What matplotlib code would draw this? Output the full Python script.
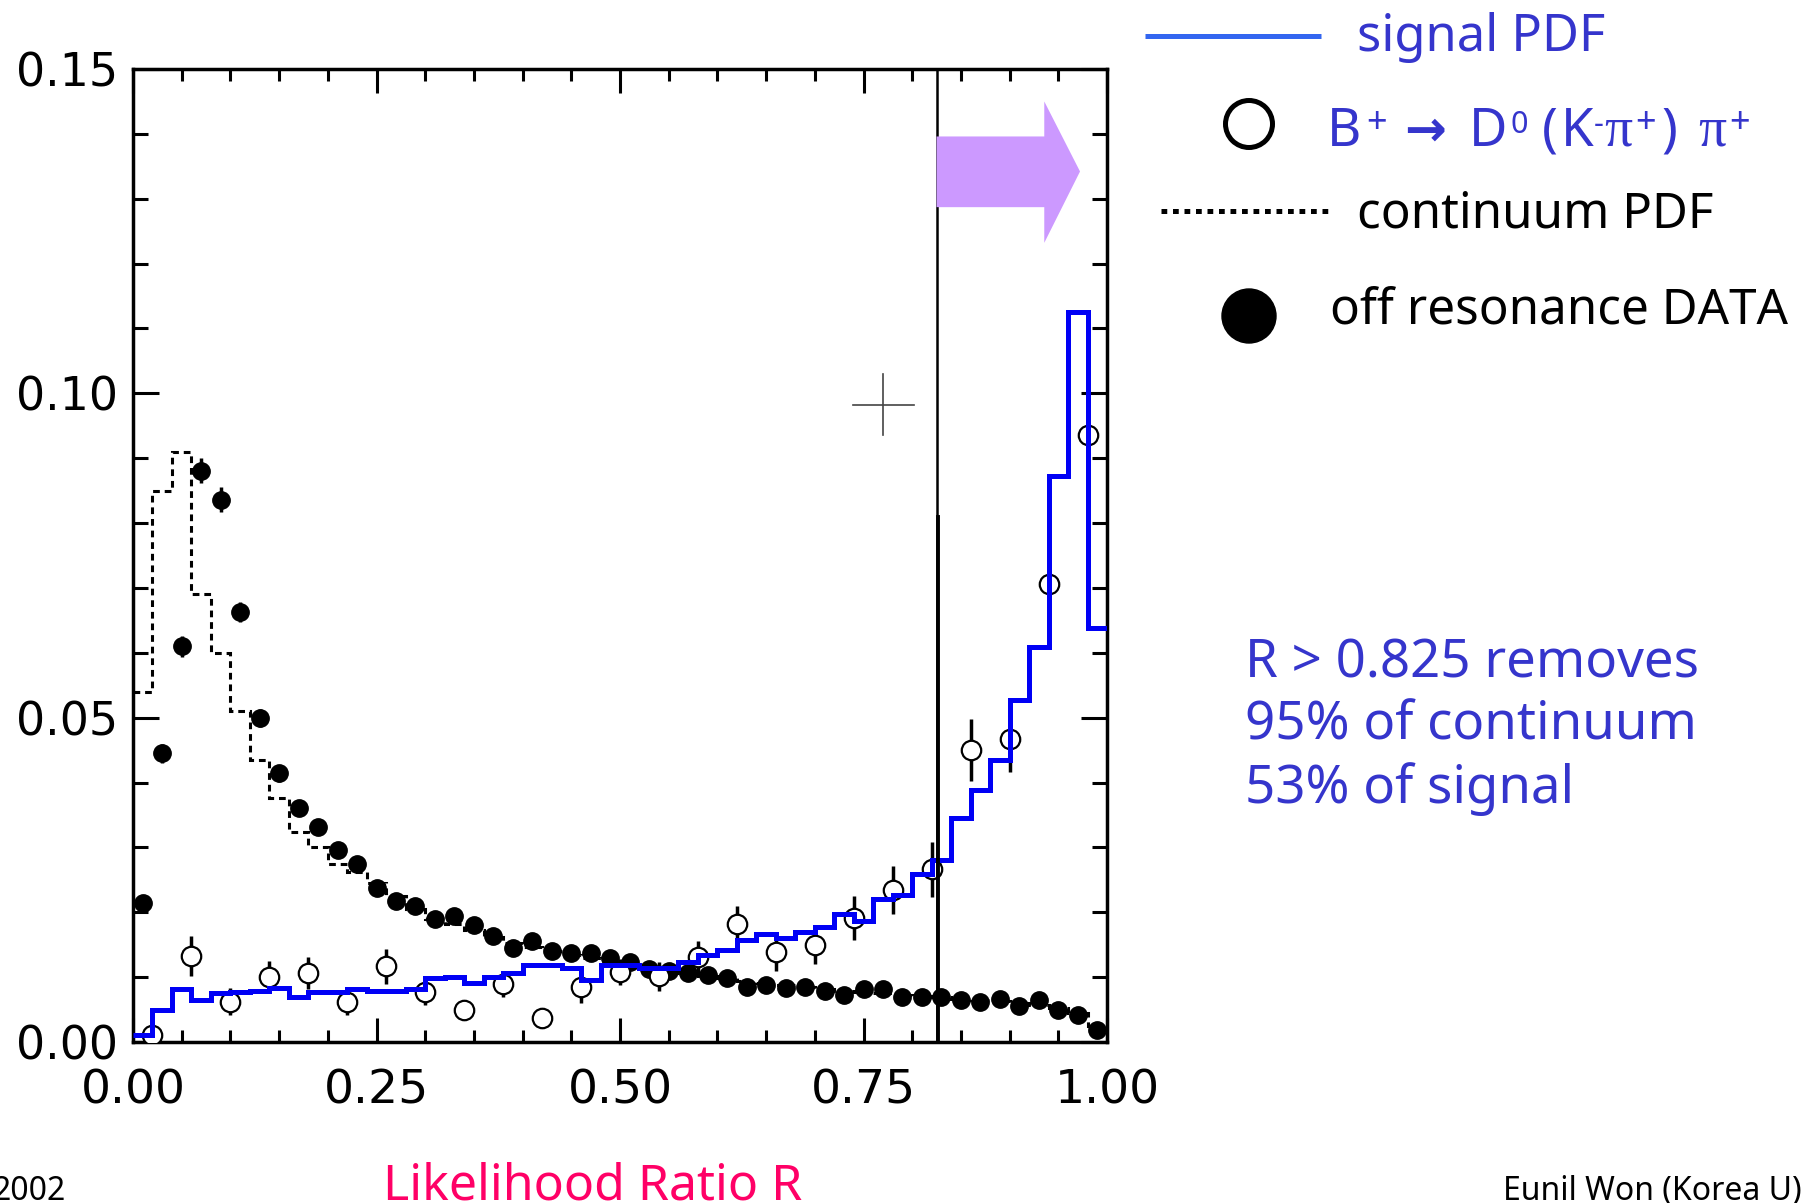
import numpy as np
import matplotlib
matplotlib.use("Agg")
import matplotlib.pyplot as plt
from matplotlib.patches import Polygon, Circle
from matplotlib.ticker import MultipleLocator, FixedLocator

# ---------------- data ----------------
# 50 bins of width 0.02 on [0, 1]
signal_pdf = [0.0011, 0.0050, 0.0081, 0.0065, 0.0076, 0.0077, 0.0079, 0.0083, 0.0070, 0.0077,
              0.0077, 0.0081, 0.0078, 0.0078, 0.0081, 0.0098, 0.0100, 0.0091, 0.0100, 0.0106,
              0.0119, 0.0119, 0.0114, 0.0096, 0.0119, 0.0119, 0.0114, 0.0114, 0.0124, 0.0134,
              0.0142, 0.0157, 0.0166, 0.0160, 0.0169, 0.0178, 0.0198, 0.0186, 0.0220, 0.0227,
              0.0259, 0.0281, 0.0346, 0.0389, 0.0434, 0.0527, 0.0609, 0.0873, 0.1126, 0.0639]

continuum_pdf = [0.0540, 0.0850, 0.0910, 0.0690, 0.0600, 0.0510, 0.0435, 0.0376, 0.0324, 0.0301,
                 0.0274, 0.0262, 0.0245, 0.0225, 0.0205, 0.0190, 0.0182, 0.0172, 0.0162, 0.0152,
                 0.0146, 0.0140, 0.0134, 0.0129, 0.0124, 0.0119, 0.0114, 0.0110, 0.0106, 0.0102,
                 0.0098, 0.0094, 0.0091, 0.0088, 0.0085, 0.0082, 0.0079, 0.0077, 0.0075, 0.0073,
                 0.0071, 0.0069, 0.0067, 0.0065, 0.0063, 0.0060, 0.0057, 0.0052, 0.0044, 0.0025]

offres_data = [0.0214, 0.0445, 0.0610, 0.0881, 0.0836, 0.0663, 0.0499, 0.0414, 0.0360, 0.0331,
               0.0296, 0.0274, 0.0237, 0.0218, 0.0210, 0.0190, 0.0194, 0.0180, 0.0163, 0.0145,
               0.0155, 0.0141, 0.0137, 0.0137, 0.0130, 0.0123, 0.0112, 0.0109, 0.0107, 0.0103,
               0.0098, 0.0085, 0.0088, 0.0084, 0.0085, 0.0078, 0.0072, 0.0081, 0.0081, 0.0070,
               0.0070, 0.0070, 0.0064, 0.0062, 0.0066, 0.0056, 0.0065, 0.0050, 0.0042, 0.0019]

offres_err = [0.0012, 0.0015, 0.0016, 0.0019, 0.0019, 0.0016, 0.0014, 0.0013, 0.0012, 0.0012,
              0.0011, 0.0011, 0.0010, 0.0010, 0.0010, 0.0010, 0.0010, 0.0010, 0.0009, 0.0009,
              0.0009, 0.0009, 0.0009, 0.0009, 0.0009, 0.0009, 0.0009, 0.0009, 0.0009, 0.0009,
              0.0008, 0.0008, 0.0008, 0.0008, 0.0008, 0.0008, 0.0008, 0.0008, 0.0008, 0.0008,
              0.0008, 0.0008, 0.0008, 0.0008, 0.0008, 0.0008, 0.0008, 0.0007, 0.0007, 0.0006]

# B+ -> D0 pi+ (25 bins of width 0.04)
bdpi_x = [0.02, 0.06, 0.10, 0.14, 0.18, 0.22, 0.26, 0.30, 0.34, 0.38, 0.42, 0.46, 0.50,
          0.54, 0.58, 0.62, 0.66, 0.70, 0.74, 0.78, 0.82, 0.86, 0.90, 0.94, 0.98]
bdpi_y = [0.0011, 0.0133, 0.0062, 0.0100, 0.0106, 0.0062, 0.0117, 0.0077, 0.0049, 0.0090,
          0.0037, 0.0085, 0.0108, 0.0101, 0.0131, 0.0182, 0.0139, 0.0150, 0.0191, 0.0234,
          0.0266, 0.0450, 0.0467, 0.0706, 0.0936]
bdpi_err = [0.0010, 0.0031, 0.0021, 0.0025, 0.0025, 0.0020, 0.0027, 0.0020, 0.0010, 0.0020,
            0.0010, 0.0025, 0.0020, 0.0022, 0.0025, 0.0027, 0.0030, 0.0030, 0.0034, 0.0037,
            0.0042, 0.0048, 0.0050, 0.0015, 0.0010]

cut_value = 0.825
cut_thick_top = 0.081

x_ticks = [0.0, 0.25, 0.50, 0.75, 1.00]
x_tick_labels = ["0.00", "0.25", "0.50", "0.75", "1.00"]
y_ticks = [0.00, 0.05, 0.10, 0.15]
y_tick_labels = ["0.00", "0.05", "0.10", "0.15"]

# ---------------- figure ----------------
W, H = 1805, 1203
fig = plt.figure(figsize=(W / 100, H / 100), dpi=100)
fig.patch.set_facecolor("white")

ax = fig.add_axes([133 / W, 1 - 1042 / H, (1107 - 133) / W, (1042 - 69) / H])
ax.set_xlim(0, 1)
ax.set_ylim(0, 0.15)

edges = np.linspace(0, 1, len(signal_pdf) + 1)
centers = 0.5 * (edges[:-1] + edges[1:])

ax.stairs(continuum_pdf, edges, baseline=None, color="black", lw=2.2,
          linestyle=(0, (2.2, 1.6)), zorder=2)
ax.errorbar(centers, offres_data, yerr=offres_err, fmt="o", color="black", ms=12.5,
            elinewidth=2.5, capsize=0, zorder=3)
ax.errorbar(bdpi_x, bdpi_y, yerr=bdpi_err, fmt="o", mfc="white", mec="black", ms=14,
            mew=1.6, ecolor="black", elinewidth=2.5, capsize=0, zorder=4)
ax.stairs(signal_pdf, edges, baseline=None, color="#0000F5", lw=3.6, zorder=5)

# cut line
ax.axvline(cut_value, color="black", lw=1.8, zorder=6)
ax.plot([cut_value + 0.0015] * 2, [0, cut_thick_top], color="black", lw=2.8, zorder=6)

# purple arrow (annotation)
arrow = Polygon([[cut_value, 0.1287], [0.9356, 0.1287], [0.9356, 0.1232], [0.9723, 0.1342],
                 [0.9356, 0.1450], [0.9356, 0.1396], [cut_value, 0.1396]],
                closed=True, facecolor="#CC99FF", edgecolor="none", zorder=7)
ax.add_patch(arrow)

# crosshair cursor
ax.plot([0.739, 0.802], [0.0982, 0.0982], color="#444444", lw=1.2, zorder=7)
ax.plot([0.7703, 0.7703], [0.0936, 0.1030], color="#444444", lw=1.2, zorder=7)

# ticks
ax.xaxis.set_major_locator(FixedLocator(x_ticks))
ax.set_xticklabels(x_tick_labels)
ax.yaxis.set_major_locator(FixedLocator(y_ticks))
ax.set_yticklabels(y_tick_labels)
ax.xaxis.set_minor_locator(MultipleLocator(0.05))
ax.yaxis.set_minor_locator(MultipleLocator(0.01))
ax.tick_params(axis="both", which="both", direction="in", top=True, right=True,
               width=2.2, color="black")
ax.tick_params(axis="y", which="major", length=19, labelsize=33, pad=11)
ax.tick_params(axis="y", which="minor", length=11)
ax.tick_params(axis="x", which="major", length=17, labelsize=34, pad=19)
ax.tick_params(axis="x", which="minor", length=8.5)
for lab in ax.get_xticklabels() + ax.get_yticklabels():
    lab.set_family("DejaVu Sans")
for s in ax.spines.values():
    s.set_linewidth(2.5)

# ---------------- overlay for text (pixel coordinates) ----------------
ov = fig.add_axes([0, 0, 1, 1], zorder=10)
ov.set_xlim(0, W)
ov.set_ylim(H, 0)
ov.axis("off")
ov.patch.set_alpha(0)

blue_txt = "#3535CC"
fam = ["Noto Sans", "DejaVu Sans"]

# legend
ov.plot([1145, 1321], [36, 36], color="#3366F0", lw=3.6, solid_capstyle="butt")
ov.text(1357, 51, "signal PDF", color=blue_txt, fontsize=36.5, family=fam, va="baseline")

ov.add_patch(Circle((1249, 124), 23.5, fill=False, ec="black", lw=3.6))
pieces = [
    (1327, 146, "B", fam, 38),
    (1366, 133, "+", fam, 26),
    (1404, 146, "\u2192", ["DejaVu Sans"], 36),
    (1469, 146, "D", fam, 38),
    (1510, 133, "0", fam, 22),
    (1542, 146, "(", fam, 38),
    (1561, 146, "K", fam, 38),
    (1594, 133, "-", fam, 22),
    (1604, 146, "\u03c0", ["Liberation Serif", "DejaVu Serif"], 40),
    (1635, 133, "+", fam, 26),
    (1661, 146, ")", fam, 38),
    (1698, 146, "\u03c0", ["Liberation Serif", "DejaVu Serif"], 40),
    (1729, 133, "+", fam, 26),
]
for px, py, t, f, s in pieces:
    w = "bold" if t == "\u2192" else "normal"
    ov.text(px, py, t, color=blue_txt, fontsize=s, family=f, va="baseline", ha="left",
            fontweight=w)

ov.plot([1161, 1333], [211, 211], color="black", lw=3.6, linestyle=(0, (1.15, 1.15)))
ov.text(1357, 227, "continuum PDF", color="black", fontsize=35.5, family=fam, va="baseline")

ov.add_patch(Circle((1249, 316), 27, color="black"))
ov.text(1330, 323, "off resonance DATA", color="black", fontsize=35.5, family=fam,
        va="baseline")

# cut description
cut_lines = ["R > 0.825 removes", "95% of continuum", "53% of signal"]
for i, line in enumerate(cut_lines):
    ov.text(1245, 677 + 63 * i, line, color=blue_txt, fontsize=38, family=fam, va="baseline")

# axis title and footer
ov.text(383, 1199, "Likelihood Ratio R", color="#FF0066", fontsize=36, family=fam,
        va="baseline")
ov.text(66, 1200, "2002", color="black", fontsize=23, family=fam, va="baseline", ha="right")
ov.text(1802, 1200, "Eunil Won (Korea U)", color="black", fontsize=23, family=fam,
        va="baseline", ha="right")

fig.savefig("out.png", dpi=100)
